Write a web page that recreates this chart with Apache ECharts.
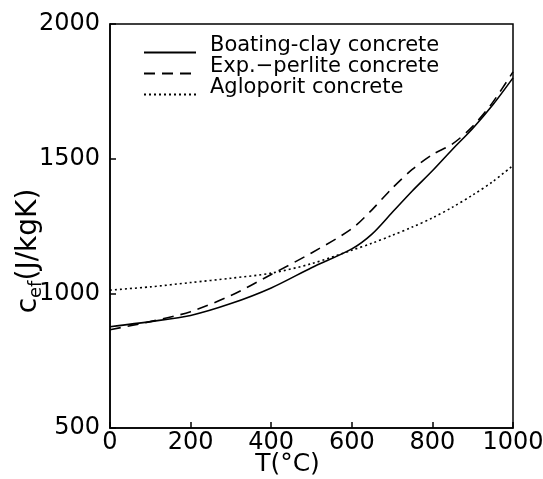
<!DOCTYPE html>
<html>
<head>
<meta charset="utf-8">
<script src="https://cdn.jsdelivr.net/npm/echarts@6/dist/echarts.min.js"></script>
<style>html,body{margin:0;padding:0;background:#fff;}#c{width:543px;height:479px;}</style>
</head>
<body>
<div id="c"></div>
<script>
var temps = [0, 100, 200, 300, 400, 500, 600, 650, 700, 750, 800, 850, 900, 950, 1000];
var boatingClay = [876, 895, 918, 962, 1020, 1095, 1165, 1220, 1300, 1380, 1455, 1535, 1612, 1700, 1800];
var expPerlite  = [865, 895, 932, 992, 1070, 1150, 1240, 1310, 1390, 1460, 1515, 1555, 1620, 1710, 1822];
var agloporit   = [1012, 1024, 1040, 1056, 1075, 1110, 1160, 1186, 1215, 1246, 1280, 1320, 1365, 1415, 1475];
var seriesNames = ['Boating-clay concrete', 'Exp.\u2212perlite concrete', 'Agloporit concrete'];
var xTicks = [0, 200, 400, 600, 800, 1000];
var yTicks = [500, 1000, 1500, 2000];

function pairs(ys) { return temps.map(function (t, i) { return [t, ys[i]]; }); }
function plain(v) { return String(v); }

var font = 'DejaVu Sans';
var chart = echarts.init(document.getElementById('c'));
chart.setOption({
  animation: false,
  backgroundColor: '#fff',
  grid: { left: 110, right: 30, top: 24, bottom: 51, show: true, borderColor: '#000', borderWidth: 1.5,
          containLabel: false, outerBoundsMode: 'none' },
  legend: {
    orient: 'vertical', left: 143, top: 35, itemWidth: 52, itemHeight: 10, itemGap: -14,
    padding: 0,
    itemStyle: { opacity: 0 },
    formatter: '{t|{name}}',
    textStyle: {
      fontFamily: font, fontSize: 21, color: '#000',
      rich: { t: { fontFamily: font, fontSize: 21, color: '#000', lineHeight: 8, padding: [0, 0, 14, 9] } }
    },
    data: seriesNames
  },
  xAxis: {
    type: 'value', min: xTicks[0], max: xTicks[xTicks.length - 1], interval: 200,
    name: 'T(\u00B0C)', nameLocation: 'middle', nameGap: 24, nameMoveOverlap: false,
    nameTextStyle: { fontFamily: font, fontSize: 25, color: '#000', padding: [0, 48, 0, 0] },
    axisLine: { show: true, lineStyle: { color: '#000', width: 1.5 } },
    axisTick: { show: true, inside: true, length: 6, lineStyle: { color: '#000', width: 1.5 } },
    axisLabel: { fontFamily: font, fontSize: 24, color: '#000', margin: 3, formatter: plain },
    splitLine: { show: false }
  },
  yAxis: {
    type: 'value', min: yTicks[0], max: yTicks[yTicks.length - 1], interval: 500,
    name: '{a|c}{s|ef}{a|(J/kgK)}', nameLocation: 'middle', nameGap: 65, nameRotate: 90, nameMoveOverlap: false,
    nameTextStyle: {
      fontFamily: font, fontSize: 28, color: '#000', padding: [0, 50, 0, 0],
      rich: {
        a: { fontFamily: font, fontSize: 28, color: '#000' },
        s: { fontFamily: font, fontSize: 18, color: '#000', verticalAlign: 'bottom', padding: [14, 0, 0, 0] }
      }
    },
    axisLine: { show: true, lineStyle: { color: '#000', width: 1.5 } },
    axisTick: { show: true, inside: true, length: 6, lineStyle: { color: '#000', width: 1.5 } },
    axisLabel: { fontFamily: font, fontSize: 24, color: '#000', margin: 10, formatter: plain },
    splitLine: { show: false }
  },
  series: [
    { name: seriesNames[0], type: 'line', data: pairs(boatingClay), smooth: 0.3, symbol: 'none',
      lineStyle: { color: '#000', width: 1.6, type: 'solid' }, itemStyle: { color: '#000' } },
    { name: seriesNames[1], type: 'line', data: pairs(expPerlite), smooth: 0.3, symbol: 'none',
      lineStyle: { color: '#000', width: 1.6, type: [11, 7] }, itemStyle: { color: '#000' } },
    { name: seriesNames[2], type: 'line', data: pairs(agloporit), smooth: 0.3, symbol: 'none',
      lineStyle: { color: '#000', width: 1.6, type: [2, 3] }, itemStyle: { color: '#000' } }
  ]
});
</script>
</body>
</html>
